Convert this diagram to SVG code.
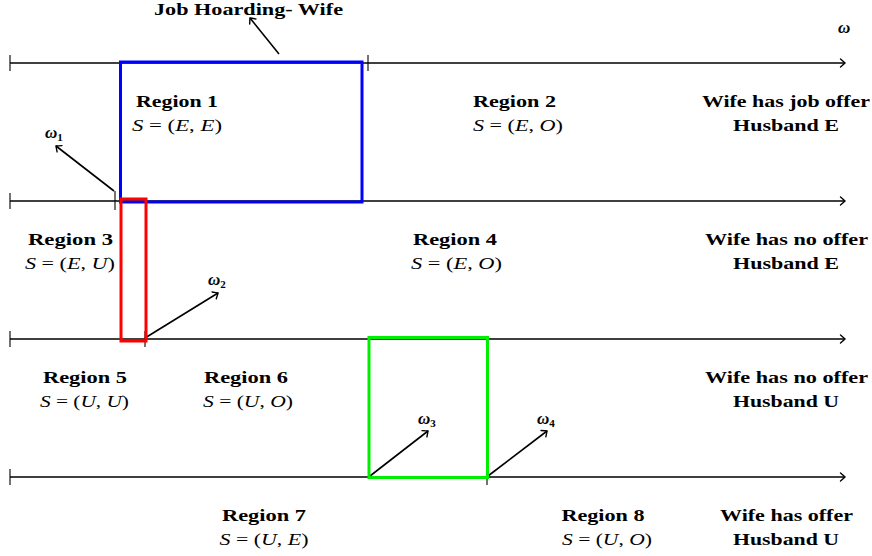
<svg xmlns="http://www.w3.org/2000/svg" width="872" height="556" viewBox="0 0 872 556">
<defs>
<marker id="arr" markerUnits="userSpaceOnUse" markerWidth="12" markerHeight="12" viewBox="-6 -6 12 12" refX="0" refY="0" orient="auto">
<path d="M-4.5,-4 Q-1,-1 0,0 Q-1,1 -4.5,4" fill="none" stroke="#000" stroke-width="1.4" stroke-linecap="round"/>
</marker>
<style>
.ax{stroke:#000;stroke-width:1.6;fill:none}
.tk{stroke:#000;stroke-width:1.1}
.pt{stroke:#000;stroke-width:1.6;fill:none;marker-end:url(#arr)}
.b{font-family:"Liberation Serif",serif;font-weight:bold;font-size:17px;fill:#000;text-anchor:middle}
.m{font-family:"Liberation Serif",serif;font-size:17px;fill:#000;text-anchor:middle}
.i{font-style:italic}
.w{font-family:"Liberation Serif",serif;font-style:italic;font-weight:bold;font-size:17px;fill:#000}
.s{font-size:11px;font-style:normal}
</style>
</defs>
<g id="connectors">
<line class="ax" x1="10" y1="63" x2="845" y2="63" marker-end="url(#arr)"/>
<line class="ax" x1="10" y1="201" x2="845" y2="201" marker-end="url(#arr)"/>
<line class="ax" x1="10" y1="339" x2="845" y2="339" marker-end="url(#arr)"/>
<line class="ax" x1="10" y1="477" x2="845" y2="477" marker-end="url(#arr)"/>
<line class="tk" x1="10" y1="55" x2="10" y2="71"/>
<line class="tk" x1="10" y1="193" x2="10" y2="209"/>
<line class="tk" x1="10" y1="331" x2="10" y2="347"/>
<line class="tk" x1="10" y1="469" x2="10" y2="485"/>
<line class="tk" x1="368" y1="55" x2="368" y2="71"/>
<line class="tk" x1="115" y1="191" x2="115" y2="210"/>
<line class="tk" x1="145" y1="331" x2="145" y2="347"/>
<line class="tk" x1="487" y1="469" x2="487" y2="485"/>
<line class="pt" x1="279" y1="54" x2="250" y2="18"/>
<line class="pt" x1="114" y1="191" x2="56" y2="146"/>
<line class="pt" x1="145" y1="338" x2="218" y2="293"/>
<line class="pt" x1="370" y1="476" x2="428" y2="431"/>
<line class="pt" x1="488" y1="476" x2="547" y2="431"/>
</g>
<g id="boxes">
<rect id="blue-box" x="120.5" y="62" width="241.5" height="140" fill="none" stroke="#0000ff" stroke-width="3"/>
<rect id="red-box" x="121" y="199" width="25" height="142" fill="none" stroke="#ff0000" stroke-width="3"/>
<rect id="green-box" x="369" y="337.5" width="118.5" height="140" fill="none" stroke="#00ee00" stroke-width="3"/>
</g>
<g id="title">
<text class="b" x="248.5" y="15" textLength="189" lengthAdjust="spacingAndGlyphs">Job Hoarding- Wife</text>
<text class="w" x="838" y="33" font-weight="normal">ω</text>
</g>
<g id="omegas">
<text class="w" x="45" y="138">ω<tspan class="s" dy="3">1</tspan></text>
<text class="w" x="208" y="285">ω<tspan class="s" dy="3">2</tspan></text>
<text class="w" x="418" y="424">ω<tspan class="s" dy="3">3</tspan></text>
<text class="w" x="537" y="424">ω<tspan class="s" dy="3">4</tspan></text>
</g>
<g id="region1">
<text class="b" x="177" y="107" textLength="82" lengthAdjust="spacingAndGlyphs">Region 1</text>
<text class="m" x="177" y="131" textLength="90" lengthAdjust="spacingAndGlyphs"><tspan class="i">S</tspan> = (<tspan class="i">E</tspan>, <tspan class="i">E</tspan>)</text>
</g>
<g id="region2">
<text class="b" x="514.5" y="107" textLength="83" lengthAdjust="spacingAndGlyphs">Region 2</text>
<text class="m" x="518" y="131" textLength="90" lengthAdjust="spacingAndGlyphs"><tspan class="i">S</tspan> = (<tspan class="i">E</tspan>, <tspan class="i">O</tspan>)</text>
</g>
<g id="row1-label">
<text class="b" x="786" y="107" textLength="168" lengthAdjust="spacingAndGlyphs">Wife has job offer</text>
<text class="b" x="786" y="131" textLength="106" lengthAdjust="spacingAndGlyphs">Husband E</text>
</g>
<g id="region3">
<text class="b" x="70.5" y="245" textLength="85" lengthAdjust="spacingAndGlyphs">Region 3</text>
<text class="m" x="70" y="269" textLength="90" lengthAdjust="spacingAndGlyphs"><tspan class="i">S</tspan> = (<tspan class="i">E</tspan>, <tspan class="i">U</tspan>)</text>
</g>
<g id="region4">
<text class="b" x="455" y="245" textLength="84" lengthAdjust="spacingAndGlyphs">Region 4</text>
<text class="m" x="456.5" y="269" textLength="91" lengthAdjust="spacingAndGlyphs"><tspan class="i">S</tspan> = (<tspan class="i">E</tspan>, <tspan class="i">O</tspan>)</text>
</g>
<g id="row2-label">
<text class="b" x="786.5" y="245" textLength="163" lengthAdjust="spacingAndGlyphs">Wife has no offer</text>
<text class="b" x="786" y="269" textLength="106" lengthAdjust="spacingAndGlyphs">Husband E</text>
</g>
<g id="region5">
<text class="b" x="85" y="383" textLength="84" lengthAdjust="spacingAndGlyphs">Region 5</text>
<text class="m" x="84.5" y="407" textLength="89" lengthAdjust="spacingAndGlyphs"><tspan class="i">S</tspan> = (<tspan class="i">U</tspan>, <tspan class="i">U</tspan>)</text>
</g>
<g id="region6">
<text class="b" x="246" y="383" textLength="84" lengthAdjust="spacingAndGlyphs">Region 6</text>
<text class="m" x="248" y="407" textLength="90" lengthAdjust="spacingAndGlyphs"><tspan class="i">S</tspan> = (<tspan class="i">U</tspan>, <tspan class="i">O</tspan>)</text>
</g>
<g id="row3-label">
<text class="b" x="786.5" y="383" textLength="163" lengthAdjust="spacingAndGlyphs">Wife has no offer</text>
<text class="b" x="786" y="407" textLength="106" lengthAdjust="spacingAndGlyphs">Husband U</text>
</g>
<g id="region7">
<text class="b" x="264" y="521" textLength="84" lengthAdjust="spacingAndGlyphs">Region 7</text>
<text class="m" x="264" y="545" textLength="89" lengthAdjust="spacingAndGlyphs"><tspan class="i">S</tspan> = (<tspan class="i">U</tspan>, <tspan class="i">E</tspan>)</text>
</g>
<g id="region8">
<text class="b" x="603" y="521" textLength="83" lengthAdjust="spacingAndGlyphs">Region 8</text>
<text class="m" x="607" y="545" textLength="90" lengthAdjust="spacingAndGlyphs"><tspan class="i">S</tspan> = (<tspan class="i">U</tspan>, <tspan class="i">O</tspan>)</text>
</g>
<g id="row4-label">
<text class="b" x="786.5" y="521" textLength="133" lengthAdjust="spacingAndGlyphs">Wife has offer</text>
<text class="b" x="786" y="545" textLength="106" lengthAdjust="spacingAndGlyphs">Husband U</text>
</g>
</svg>
